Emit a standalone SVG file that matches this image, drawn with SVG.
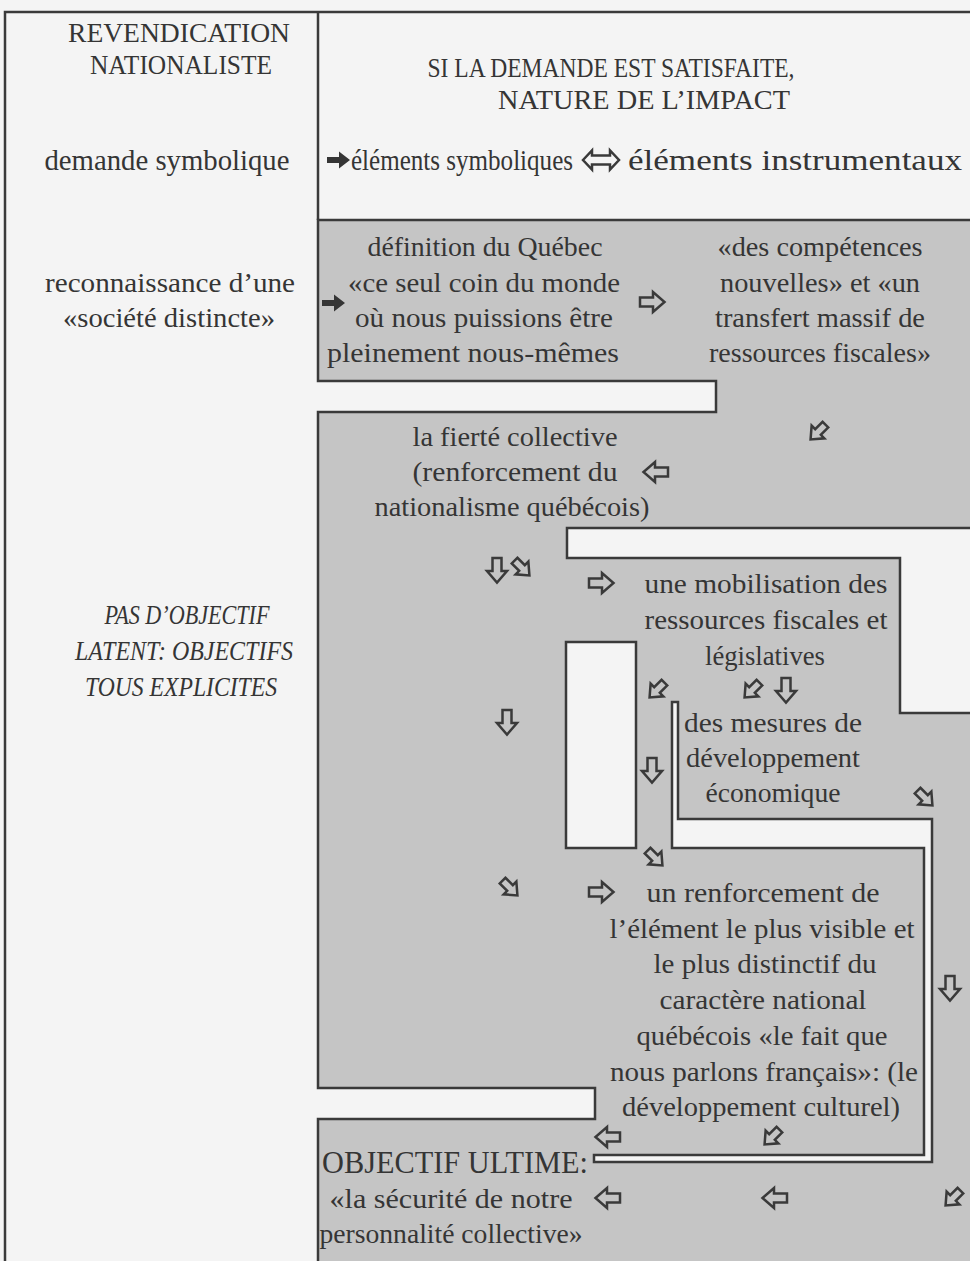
<svg xmlns="http://www.w3.org/2000/svg" xmlns:xlink="http://www.w3.org/1999/xlink" width="970" height="1261" viewBox="0 0 970 1261">
<style>
  .bg { fill: #f4f4f4; }
  .gray { fill: #c5c5c5; stroke: #3a3a3a; stroke-width: 2.5; }
  .hole { fill: #f4f4f4; stroke: #3a3a3a; stroke-width: 2.5; }
  .line { fill: none; stroke: #3a3a3a; stroke-width: 2.5; }
  text { font-family: "Liberation Serif", "Times New Roman", serif; fill: #353535; text-anchor: middle; }
  .b { font-size: 28px; }
  .r { font-size: 30px; }
  .h { font-size: 28px; }
  .o { font-size: 31px; }
  .it { font-size: 27px; font-style: italic; }
  .ha { fill: none; stroke: #3a3a3a; stroke-width: 2.5; stroke-linejoin: miter; }
  .fa { fill: #353535; stroke: none; }
</style>
<defs>
  <path id="hollow" class="ha" d="M-12,-4.5 H1 V-10 L12.5,0 L1,10 V4.5 H-12 Z"/>
  <path id="hdiag" class="ha" d="M-10.5,-4 H0 V-9 L10.5,0 L0,9 V4 H-10.5 Z"/>
  <path id="solid" class="fa" d="M-11,-3 H1 V-8.5 L12,0 L1,8.5 V3 H-11 Z"/>
  <path id="dbl" class="ha" d="M-18,0 L-9,-9.5 V-4.5 H9 V-9.5 L18,0 L9,9.5 V4.5 H-9 V9.5 Z"/>
</defs>

<rect class="bg" x="0" y="0" width="970" height="1261"/>

<g id="frame">
  <path class="line" d="M5,1265 V12 H975" stroke-width="3"/>
  <path class="line" d="M318,12 V220"/>
</g>

<g id="regions">
  <path class="gray" d="M318,220 H975 V1265 H318 V1119 H595 V1088 H318 V412 H716 V381 H318 Z"/>
  <path class="hole" d="M975,528 H567 V558 H900 V713 H975 Z"/>
  <rect class="hole" x="566" y="642" width="70" height="206"/>
  <path class="hole" d="M672,702 H678 V819 H932 V1162 H594 V1155 H924 V848 H672 Z"/>
</g>

<g id="n-revendication">
  <text class="h" x="179" y="42" textLength="222" lengthAdjust="spacingAndGlyphs">REVENDICATION</text>
  <text class="h" x="181" y="74" textLength="182" lengthAdjust="spacingAndGlyphs">NATIONALISTE</text>
</g>
<g id="n-impact">
  <text class="h" x="611" y="77" textLength="367" lengthAdjust="spacingAndGlyphs">SI LA DEMANDE EST SATISFAITE,</text>
  <text class="h" x="644" y="109" textLength="292" lengthAdjust="spacingAndGlyphs">NATURE DE L’IMPACT</text>
</g>
<g id="n-demande">
  <text class="r" x="167" y="170" textLength="245" lengthAdjust="spacingAndGlyphs">demande symbolique</text>
</g>
<g id="n-elements-symboliques">
  <text class="r" x="462" y="170" textLength="222" lengthAdjust="spacingAndGlyphs">éléments symboliques</text>
</g>
<g id="n-elements-instrumentaux">
  <text class="r" x="795" y="170" textLength="334" lengthAdjust="spacingAndGlyphs">éléments instrumentaux</text>
</g>
<g id="n-reconnaissance">
  <text class="b" x="170" y="292" textLength="250" lengthAdjust="spacingAndGlyphs">reconnaissance d’une</text>
  <text class="b" x="169" y="327" textLength="212" lengthAdjust="spacingAndGlyphs">«société distincte»</text>
</g>
<g id="n-definition">
  <text class="b" x="485" y="256" textLength="235" lengthAdjust="spacingAndGlyphs">définition du Québec</text>
  <text class="b" x="484" y="292" textLength="272" lengthAdjust="spacingAndGlyphs">«ce seul coin du monde</text>
  <text class="b" x="484" y="327" textLength="258" lengthAdjust="spacingAndGlyphs">où nous puissions être</text>
  <text class="b" x="473" y="362" textLength="292" lengthAdjust="spacingAndGlyphs">pleinement nous-mêmes</text>
</g>
<g id="n-competences">
  <text class="b" x="820" y="256" textLength="205" lengthAdjust="spacingAndGlyphs">«des compétences</text>
  <text class="b" x="820" y="292" textLength="200" lengthAdjust="spacingAndGlyphs">nouvelles» et «un</text>
  <text class="b" x="820" y="327" textLength="210" lengthAdjust="spacingAndGlyphs">transfert massif de</text>
  <text class="b" x="820" y="362" textLength="222" lengthAdjust="spacingAndGlyphs">ressources fiscales»</text>
</g>
<g id="n-fierte">
  <text class="b" x="515" y="446" textLength="205" lengthAdjust="spacingAndGlyphs">la fierté collective</text>
  <text class="b" x="515" y="481" textLength="205" lengthAdjust="spacingAndGlyphs">(renforcement du</text>
  <text class="b" x="512" y="516" textLength="275" lengthAdjust="spacingAndGlyphs">nationalisme québécois)</text>
</g>
<g id="n-mobilisation">
  <text class="b" x="766" y="593" textLength="243" lengthAdjust="spacingAndGlyphs">une mobilisation des</text>
  <text class="b" x="766" y="629" textLength="243" lengthAdjust="spacingAndGlyphs">ressources fiscales et</text>
  <text class="b" x="765" y="665" textLength="120" lengthAdjust="spacingAndGlyphs">législatives</text>
</g>
<g id="n-mesures">
  <text class="b" x="773" y="732" textLength="178" lengthAdjust="spacingAndGlyphs">des mesures de</text>
  <text class="b" x="773" y="767" textLength="174" lengthAdjust="spacingAndGlyphs">développement</text>
  <text class="b" x="773" y="802" textLength="135" lengthAdjust="spacingAndGlyphs">économique</text>
</g>
<g id="n-renforcement">
  <text class="b" x="763" y="902" textLength="233" lengthAdjust="spacingAndGlyphs">un renforcement de</text>
  <text class="b" x="762" y="938" textLength="305" lengthAdjust="spacingAndGlyphs">l’élément le plus visible et</text>
  <text class="b" x="765" y="973" textLength="223" lengthAdjust="spacingAndGlyphs">le plus distinctif du</text>
  <text class="b" x="763" y="1009" textLength="207" lengthAdjust="spacingAndGlyphs">caractère national</text>
  <text class="b" x="762" y="1045" textLength="251" lengthAdjust="spacingAndGlyphs">québécois «le fait que</text>
  <text class="b" x="764" y="1081" textLength="308" lengthAdjust="spacingAndGlyphs">nous parlons français»: (le</text>
  <text class="b" x="761" y="1116" textLength="278" lengthAdjust="spacingAndGlyphs">développement culturel)</text>
</g>
<g id="n-pas-objectif">
  <text class="it" x="187" y="624" textLength="165" lengthAdjust="spacingAndGlyphs">PAS D’OBJECTIF</text>
  <text class="it" x="184" y="660" textLength="218" lengthAdjust="spacingAndGlyphs">LATENT: OBJECTIFS</text>
  <text class="it" x="181" y="696" textLength="192" lengthAdjust="spacingAndGlyphs">TOUS EXPLICITES</text>
</g>
<g id="n-objectif-ultime">
  <text class="o" x="455" y="1173" textLength="266" lengthAdjust="spacingAndGlyphs">OBJECTIF ULTIME:</text>
  <text class="b" x="451" y="1208" textLength="243" lengthAdjust="spacingAndGlyphs">«la sécurité de notre</text>
  <text class="b" x="451" y="1243" textLength="263" lengthAdjust="spacingAndGlyphs">personnalité collective»</text>
</g>

<g id="connectors">
  <use xlink:href="#solid" transform="translate(338,160)"/>
  <use xlink:href="#dbl" transform="translate(601,160)"/>
  <use xlink:href="#solid" transform="translate(333,303)"/>
  <use xlink:href="#hollow" transform="translate(652,302)"/>
  <use xlink:href="#hdiag" transform="translate(818,432) rotate(135)"/>
  <use xlink:href="#hollow" transform="translate(656,472) rotate(180)"/>
  <use xlink:href="#hollow" transform="translate(497,570) rotate(90)"/>
  <use xlink:href="#hdiag" transform="translate(522,568) rotate(45)"/>
  <use xlink:href="#hollow" transform="translate(601,583)"/>
  <use xlink:href="#hdiag" transform="translate(657,690) rotate(135)"/>
  <use xlink:href="#hdiag" transform="translate(752,690) rotate(135)"/>
  <use xlink:href="#hollow" transform="translate(786,690) rotate(90)"/>
  <use xlink:href="#hollow" transform="translate(507,722) rotate(90)"/>
  <use xlink:href="#hollow" transform="translate(652,770) rotate(90)"/>
  <use xlink:href="#hdiag" transform="translate(925,798) rotate(45)"/>
  <use xlink:href="#hdiag" transform="translate(655,858) rotate(45)"/>
  <use xlink:href="#hdiag" transform="translate(510,888) rotate(45)"/>
  <use xlink:href="#hollow" transform="translate(601,892)"/>
  <use xlink:href="#hollow" transform="translate(950,988) rotate(90)"/>
  <use xlink:href="#hollow" transform="translate(608,1137) rotate(180)"/>
  <use xlink:href="#hdiag" transform="translate(772,1137) rotate(135)"/>
  <use xlink:href="#hollow" transform="translate(608,1198) rotate(180)"/>
  <use xlink:href="#hollow" transform="translate(775,1198) rotate(180)"/>
  <use xlink:href="#hdiag" transform="translate(953,1198) rotate(135)"/>
</g>
</svg>
